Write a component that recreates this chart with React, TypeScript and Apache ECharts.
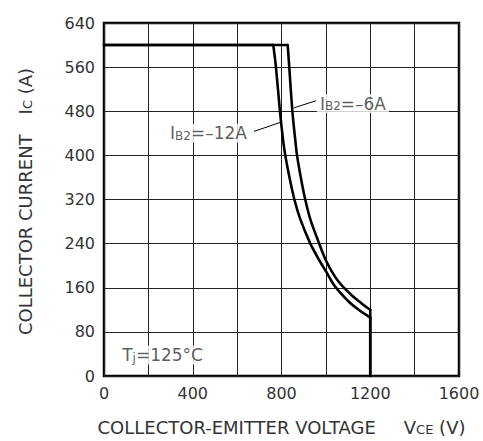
import React, { useEffect, useRef } from "react";
import * as echarts from "echarts";

// Data
const xTicks = [0, 400, 800, 1200, 1600];
const yTicks = [0, 80, 160, 240, 320, 400, 480, 560, 640];

const vce12 = [0, 763, 775, 793, 807, 817, 836, 858, 885, 930, 970, 1000, 1040, 1100, 1148, 1200, 1200];
const ic12 = [600, 600, 560, 480, 428, 400, 360, 320, 284, 240, 210, 190, 163, 136, 120, 106, 0];

const vce6 = [0, 828, 835, 849, 862, 870, 887, 907, 930, 970, 1002, 1038, 1070, 1120, 1160, 1200, 1200];
const ic6 = [600, 600, 560, 480, 428, 400, 360, 320, 284, 240, 208, 182, 165, 145, 132, 120, 0];

// Annotation anchors (data coordinates)
const label6At = [1122, 494];
const label12At = [471, 440];
const tjAt = [264, 38];
const leader6 = [[855, 486], [955, 499]];
const leader12 = [[676, 443.5], [800, 460.5]];

const FONT = "DejaVu Sans";
const TXT = "#333";

const zip = (xs: number[], ys: number[]) => xs.map((x, i) => [x, ys[i]]);

const richBase = {
  n: { fontSize: 17, color: TXT, fontFamily: FONT, verticalAlign: "bottom" as const },
  s: { fontSize: 12, color: TXT, fontFamily: FONT, verticalAlign: "bottom" as const },
  j: { fontSize: 12, color: TXT, fontFamily: FONT, verticalAlign: "bottom" as const, lineHeight: 8 },
};
const richName = {
  n: { ...richBase.n, fontSize: 18 },
  s: { ...richBase.s, fontSize: 13 },
};

function labelSeries(pos: number[], text: string) {
  return {
    type: "scatter",
    symbolSize: 0,
    silent: true,
    z: 5,
    data: [pos],
    label: {
      show: true,
      position: [0, 0],
      align: "center",
      verticalAlign: "middle",
      formatter: () => text,
      backgroundColor: "#fff",
      padding: [1, 3, 1, 3],
      rich: richBase,
    },
  };
}

function leaderSeries(pts: number[][]) {
  return {
    type: "line",
    data: pts,
    symbol: "none",
    silent: true,
    z: 6,
    lineStyle: { color: "#000", width: 1 },
  };
}

function curveSeries(name: string, xs: number[], ys: number[]) {
  const pts = zip(xs, ys);
  const n = pts.length;
  const base = {
    name,
    type: "line",
    symbol: "none",
    z: 3,
    lineStyle: { color: "#000", width: 2.6, cap: "round", join: "round" },
  };
  return [
    { ...base, data: pts.slice(0, 2) },
    { ...base, data: pts.slice(1, n - 1), smooth: 0.3 },
    { ...base, data: pts.slice(n - 2) },
  ];
}

export default function App() {
  const ref = useRef<HTMLDivElement>(null);
  useEffect(() => {
    if (!ref.current) return;
    const chart = echarts.init(ref.current, undefined, { renderer: "svg" });
    chart.setOption({
      animation: false,
      textStyle: { fontFamily: FONT },
      grid: {
        left: 104,
        right: 24,
        top: 23,
        bottom: 64,
        show: true,
        borderColor: "#000",
        borderWidth: 2.5,
        backgroundColor: "transparent",
      },
      xAxis: {
        type: "value",
        min: xTicks[0],
        max: xTicks[xTicks.length - 1],
        interval: 200,
        axisLine: { show: false },
        axisTick: { show: false },
        splitLine: { show: true, lineStyle: { color: "#222", width: 1 } },
        axisLabel: {
          fontSize: 16,
          color: TXT,
          fontFamily: FONT,
          margin: 9,
          formatter: (v: number) => (xTicks.includes(v) ? String(v) : ""),
        },
        name: "{n|COLLECTOR-EMITTER VOLTAGE}{v|V}{s|CE}{n| (V)}",
        nameLocation: "middle",
        nameGap: 42,
        nameTextStyle: {
          rich: {
            ...richName,
            v: { ...richName.n, padding: [0, 0, 0, 28] },
          },
        },
      },
      yAxis: {
        type: "value",
        min: yTicks[0],
        max: yTicks[yTicks.length - 1],
        interval: 80,
        axisLine: { show: false },
        axisTick: { show: false },
        splitLine: { show: true, lineStyle: { color: "#222", width: 1 } },
        axisLabel: { fontSize: 16, color: TXT, fontFamily: FONT, margin: 9 },
        name: "{n|COLLECTOR CURRENT}{i|I}{s|C}{n| (A)}",
        nameLocation: "middle",
        nameGap: 70,
        nameTextStyle: {
          padding: [0, 4, 0, 0],
          rich: {
            ...richName,
            i: { ...richName.n, padding: [0, 0, 0, 20] },
          },
        },
      },
      series: [
        ...curveSeries("IB2=-12A", vce12, ic12),
        ...curveSeries("IB2=-6A", vce6, ic6),
        leaderSeries(leader6),
        leaderSeries(leader12),
        labelSeries(label6At, "{n|I}{s|B2}{n|=–6A}"),
        labelSeries(label12At, "{n|I}{s|B2}{n|=–12A}"),
        labelSeries(tjAt, "{n|T}{j|j}{n|=125°C}"),
      ],
    });
    return () => chart.dispose();
  }, []);
  return <div ref={ref} style={{ width: 483, height: 441, position: "absolute", left: 0, top: 0 }} />;
}
